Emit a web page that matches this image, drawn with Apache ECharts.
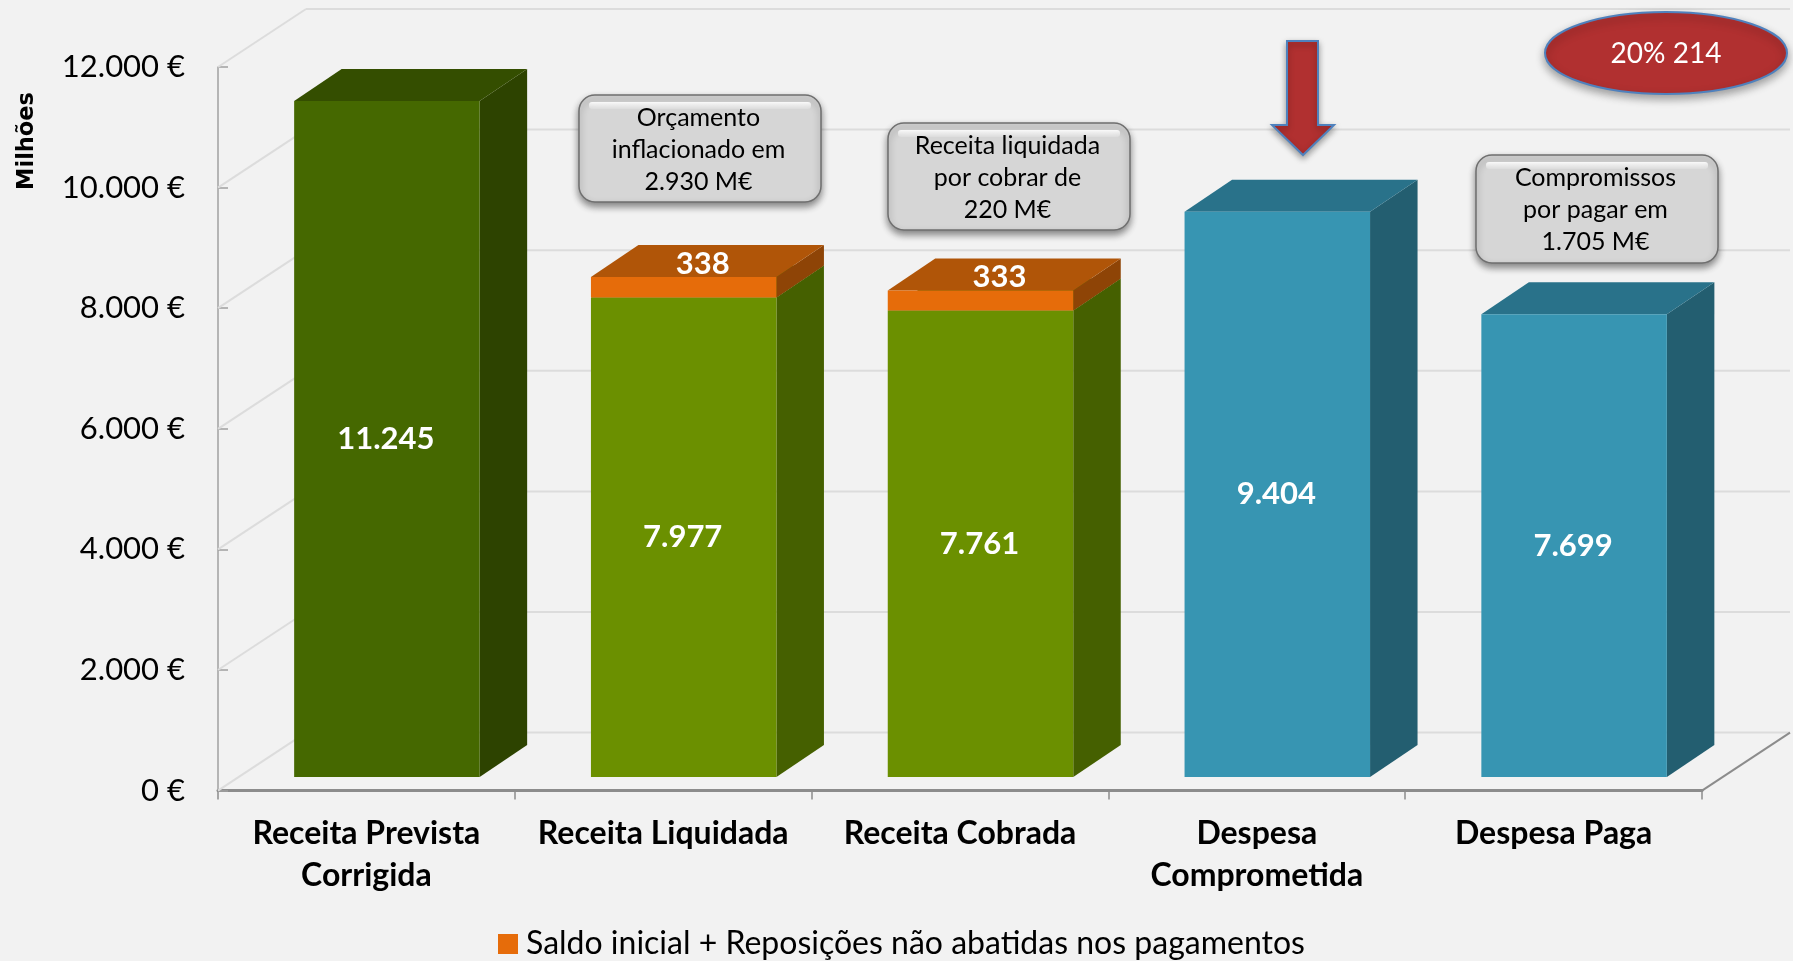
<!DOCTYPE html>
<html>
<head>
<meta charset="utf-8">
<title>Receita e Despesa</title>
<script src="https://cdn.jsdelivr.net/npm/echarts@6/dist/echarts.min.js"></script>
<style>
  html, body { margin: 0; padding: 0; background: #f2f2f2; overflow: hidden; }
  #main { width: 1793px; height: 961px; }
</style>
</head>
<body>
<div id="main"></div>
<script type="text/javascript">
  // valores, em milhoes de euros
  var categories = ['Receita Prevista\nCorrigida', 'Receita Liquidada', 'Receita Cobrada', 'Despesa\nComprometida', 'Despesa Paga']
  var baseValues = [11245, 7977, 7761, 9404, 7699]
  var saldoValues = [null, 338, 333, null, null]
  var yTicks = [0, 2000, 4000, 6000, 8000, 10000, 12000]
  var saldoName = 'Saldo inicial + Reposições não abatidas nos pagamentos'

  var baseColors = [
    {front: '#456800', side: '#2d4300', top: '#344e00'},
    {front: '#6b9000', side: '#456000', top: '#516d00'},
    {front: '#6b9000', side: '#456000', top: '#516d00'},
    {front: '#3795b2', side: '#235e70', top: '#29728a'},
    {front: '#3795b2', side: '#235e70', top: '#29728a'}
  ]
  var saldoColors = {front: '#e66c0a', side: '#8e4406', top: '#b05508'}

  var font = 'Lato'
  var gridLeft = 218, gridRight = 1702, gridTop = 67, gridBottom = 790.6
  var wallX = 88, wallY = -58       // profundidade das paredes
  var floorX = 20.5, floorY = -13.6 // barras recuadas em relacao ao eixo
  var barWidth = 185.5, depthX = 47.5, depthY = -32
  var depthScale = 0.997            // o plano das barras e um pouco mais pequeno

  function fmt(v) {
    return String(v).replace(/\B(?=(\d{3})+$)/g, '.')
  }

  function poly(points, color) {
    return {type: 'polygon', shape: {points: points}, style: {fill: color}}
  }

  // caixa 3d: frente, lado e topo, a partir das coordenadas do eixo
  function renderBox(params, api, colors, labelOnTop) {
    var idx = api.value(0)
    var zero = api.coord([idx, 0])
    var p0 = api.coord([idx, api.value(1)])
    var p1 = api.coord([idx, api.value(2)])
    var l = zero[0] + floorX - barWidth / 2
    var r = l + barWidth
    var y0 = zero[1] + floorY - (zero[1] - p0[1]) * depthScale
    var y1 = zero[1] + floorY - (zero[1] - p1[1]) * depthScale
    var text = fmt(api.value(2) - api.value(1))
    var children = [
      poly([[r, y0], [r + depthX, y0 + depthY], [r + depthX, y1 + depthY], [r, y1]], colors.side),
      poly([[l, y1], [r, y1], [r + depthX, y1 + depthY], [l + depthX, y1 + depthY]], colors.top),
      poly([[l, y0], [r, y0], [r, y1], [l, y1]], colors.front),
      {
        type: 'text',
        x: labelOnTop ? (l + r) / 2 + 19 : (l + r) / 2 - 1,
        y: labelOnTop ? y1 + depthY / 2 + 3 : (y0 + y1) / 2,
        style: {text: text, fill: '#fff', font: 'bold 31px ' + font, align: 'center', verticalAlign: 'middle'}
      }
    ]
    return {type: 'group', children: children}
  }

  function renderWall(params, api) {
    var y = api.coord([0, api.value(0)])[1]
    var lineStyle = {stroke: '#dcdcdc', lineWidth: 2, fill: null}
    return {
      type: 'group',
      children: [
        {type: 'line', shape: {x1: gridLeft, y1: y, x2: gridLeft + wallX, y2: y + wallY}, style: lineStyle},
        {type: 'line', shape: {x1: gridLeft + wallX, y1: y + wallY, x2: gridRight + wallX, y2: y + wallY}, style: lineStyle}
      ]
    }
  }

  function renderFloorEdge(params, api) {
    var y = api.coord([0, api.value(0)])[1]
    return {
      type: 'line',
      shape: {x1: gridRight, y1: y, x2: gridRight + wallX, y2: y + wallY},
      style: {stroke: '#8c8c8c', lineWidth: 2, fill: null}
    }
  }

  function callout(x, y, w, h, lines) {
    return {
      type: 'group',
      z: 100,
      children: [
        {
          type: 'rect', x: x, y: y, z: 100,
          shape: {width: w, height: h, r: 16},
          style: {
            fill: '#d6d6d6', stroke: '#6f6f6f', lineWidth: 1.5,
            shadowBlur: 7, shadowOffsetY: 4, shadowColor: 'rgba(0,0,0,0.45)'
          }
        },
        {
          type: 'rect', x: x + 10, y: y + 7, z: 101,
          shape: {width: w - 20, height: 7, r: 3},
          style: {
            fill: new echarts.graphic.LinearGradient(0, 0, 0, 1, [
              {offset: 0, color: 'rgba(255,255,255,0.9)'},
              {offset: 1, color: 'rgba(255,255,255,0.15)'}
            ])
          }
        },
        {
          type: 'text', x: x + w / 2 - 1.5, y: y + h / 2 + 1, z: 102,
          style: {
            text: lines.join('\n'), fill: '#000', font: '25px ' + font,
            lineHeight: 32, align: 'center', verticalAlign: 'middle'
          }
        }
      ]
    }
  }

  var chart = echarts.init(document.getElementById('main'))
  chart.setOption({
    backgroundColor: '#f2f2f2',
    animation: false,
    textStyle: {fontFamily: font},
    grid: {left: gridLeft, top: gridTop, width: gridRight - gridLeft, height: gridBottom - gridTop, containLabel: false},
    legend: {
      left: 493,
      top: 923,
      itemWidth: 20,
      itemHeight: 20,
      itemGap: 8,
      icon: 'rect',
      data: [saldoName],
      textStyle: {fontFamily: font, fontSize: 32, color: '#000', padding: [0, 0, 0, 3]}
    },
    xAxis: {
      type: 'category',
      data: categories,
      boundaryGap: true,
      axisLine: {onZero: false, lineStyle: {color: '#8c8c8c', width: 3}},
      axisTick: {show: true, alignWithLabel: false, length: 9, lineStyle: {color: '#8c8c8c', width: 1.5}},
      axisLabel: {color: '#000', fontFamily: font, fontWeight: 'bold', fontSize: 32, lineHeight: 42, margin: 22, interval: 0}
    },
    yAxis: {
      type: 'value',
      min: 0,
      max: 12000,
      interval: 2000,
      splitLine: {show: false},
      axisLine: {show: true, lineStyle: {color: '#a0a0a0', width: 1.5}},
      axisTick: {show: true, inside: true, length: 10, lineStyle: {color: '#a0a0a0', width: 1.5}},
      axisLabel: {
        color: '#000', fontFamily: font, fontSize: 31, margin: 33, padding: [2, 0, 0, 0],
        formatter: function (v) { return fmt(v) + ' €' }
      }
    },
    series: [
      {
        name: 'Parede',
        type: 'custom',
        z: 1,
        silent: true,
        clip: false,
        renderItem: renderWall,
        encode: {y: 0},
        data: yTicks.map(function (v) { return [v] })
      },
      {
        name: 'Chao',
        type: 'custom',
        z: 1,
        silent: true,
        clip: false,
        renderItem: renderFloorEdge,
        encode: {y: 0},
        data: [[0]]
      },
      {
        name: 'Valor',
        type: 'custom',
        z: 3,
        clip: false,
        renderItem: function (params, api) {
          return renderBox(params, api, baseColors[api.value(0)], false)
        },
        encode: {x: 0, y: 2},
        data: baseValues.map(function (v, i) { return [i, 0, v] })
      },
      {
        name: saldoName,
        type: 'custom',
        z: 4,
        clip: false,
        itemStyle: {color: saldoColors.front},
        renderItem: function (params, api) {
          return renderBox(params, api, saldoColors, true)
        },
        encode: {x: 0, y: 2},
        data: saldoValues.map(function (v, i) {
          return v === null ? null : [i, baseValues[i], baseValues[i] + v]
        }).filter(function (d) { return d !== null })
      }
    ],
    graphic: [
      {
        type: 'text', x: 27, y: 141, rotation: Math.PI / 2, z: 100,
        style: {text: 'Milhões', fill: '#000', font: 'bold 22.5px "DejaVu Sans"', align: 'center', verticalAlign: 'middle'}
      },
      callout(579, 95, 242, 107, ['Orçamento', 'inflacionado em', '2.930 M€']),
      callout(888, 123, 242, 107, ['Receita liquidada', 'por cobrar de', '220 M€']),
      callout(1476, 155, 242, 108, ['Compromissos', 'por pagar em', '1.705 M€']),
      {
        type: 'polygon', z: 100,
        shape: {points: [[1287, 41], [1318, 41], [1318, 125], [1334, 125], [1303, 155], [1272, 125], [1287, 125]]},
        style: {
          fill: '#b13030', stroke: '#4f81bd', lineWidth: 2,
          shadowBlur: 6, shadowOffsetY: 3, shadowColor: 'rgba(0,0,0,0.35)'
        }
      },
      {
        type: 'ellipse', z: 100,
        shape: {cx: 1666, cy: 53, rx: 121, ry: 41},
        style: {
          fill: '#b13030', stroke: '#4f81bd', lineWidth: 2,
          shadowBlur: 8, shadowOffsetY: 4, shadowColor: 'rgba(0,0,0,0.35)'
        }
      },
      {
        type: 'text', x: 1666, y: 54, z: 101,
        style: {text: '20% 214', fill: '#fff', font: '28px ' + font, align: 'center', verticalAlign: 'middle'}
      }
    ]
  })
</script>
</body>
</html>
